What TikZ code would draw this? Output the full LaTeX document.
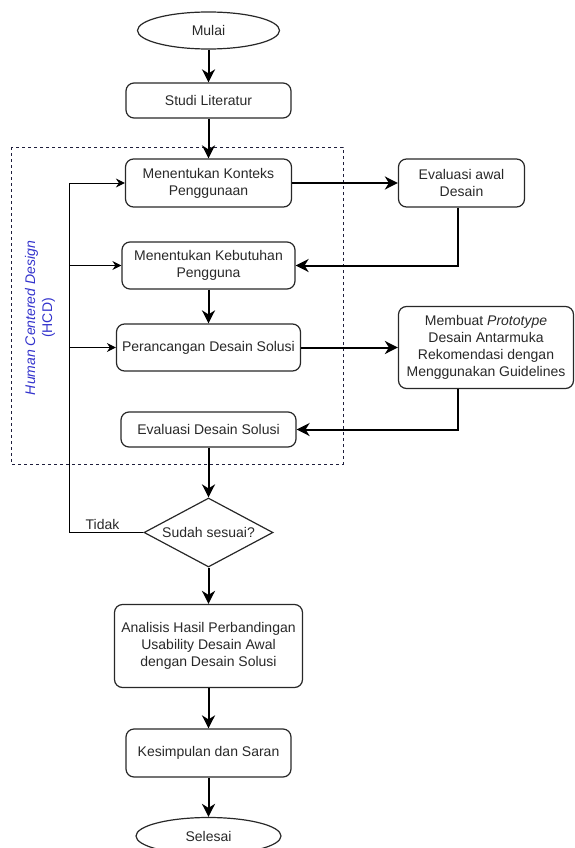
\documentclass[tikz,border=0pt]{standalone}
\usepackage{fontspec}
\setmainfont{Liberation Sans}
\usetikzlibrary{arrows.meta}
\usetikzlibrary{shapes.geometric}
\usetikzlibrary{calc}

\definecolor{hcdbiru}{RGB}{51,51,204}
\definecolor{hcdgaris}{RGB}{30,30,60}
\definecolor{tinta}{RGB}{40,40,40}

\tikzset{
  teks/.style={text=tinta, font=\fontsize{14}{16.8}\selectfont, align=center, inner sep=2pt},
  proses/.style={teks, draw=tinta, line width=1.2pt, rounded corners=8pt},
  terminal/.style={teks, ellipse, draw=tinta, line width=1.2pt},
  keputusan/.style={teks, diamond, aspect=1.87, inner sep=0pt, draw=tinta, line width=1.2pt},
  alur/.style={line width=2pt, -{Stealth[length=13pt, width=13pt, inset=4pt]}},
  balik/.style={line width=1pt, -{Stealth[length=9pt, width=9pt, inset=3pt]}},
}

\begin{document}
\begin{tikzpicture}[x=1pt, y=-1pt]
\useasboundingbox (0,0) rectangle (575,848);
% kotak HCD
\draw[hcdgaris, line width=0.8pt, dash pattern=on 3pt off 3pt] (11,147) rectangle (343,464);
\node[teks, rotate=90, text=hcdbiru] (hcd) at (40,318) {\textit{Human Centered Design}\\(HCD)};

\node[terminal, minimum width=142, minimum height=37] (mulai) at (208.5,30.5) {Mulai};
\node[proses, minimum width=165, minimum height=35] (studi) at (208.5,100.5) {Studi Literatur};
\node[proses, minimum width=166, minimum height=48] (konteks) at (208.5,183) {Menentukan Konteks\\Penggunaan};
\node[proses, minimum width=126, minimum height=48] (evalawal) at (461.5,183) {Evaluasi awal\\Desain};
\node[proses, minimum width=173, minimum height=47] (kebutuhan) at (208.5,265.5) {Menentukan Kebutuhan\\Pengguna};
\node[proses, minimum width=184, minimum height=47] (perancangan) at (208.5,347.5) {Perancangan Desain Solusi};
\node[proses, minimum width=175, minimum height=82] (prototype) at (486,347.5) {Membuat \textit{Prototype}\\Desain Antarmuka\\Rekomendasi dengan\\Menggunakan Guidelines};
\node[proses, minimum width=175, minimum height=35] (evaldesain) at (208.5,429.5) {Evaluasi Desain Solusi};
\node[keputusan, minimum width=129, minimum height=69] (cek) at (208.5,532.5) {Sudah sesuai?};
\node[proses, minimum width=188, minimum height=83] (analisis) at (208.5,646) {Analisis Hasil Perbandingan\\Usability Desain Awal\\dengan Desain Solusi};
\node[proses, minimum width=165, minimum height=48] (kesimpulan) at (208.5,753) {Kesimpulan dan Saran};
\node[terminal, minimum width=145, minimum height=37] (selesai) at (208.5,836) {Selesai};

\coordinate (kanan) at (458,0);
\coordinate (kiriatas) at (69,183);
\coordinate (kiribawah) at (69,532.5);

\foreach \a/\b in {mulai/studi, studi/konteks, kebutuhan/perancangan, evaldesain/cek, cek/analisis, analisis/kesimpulan, kesimpulan/selesai}
  \draw[alur] (\a) -- (\b);
\draw[alur] (konteks) -- (evalawal);
\draw[alur] (perancangan) -- (prototype);
\draw[alur] (evalawal.south -| kanan) |- (kebutuhan.east);
\draw[alur] (prototype.south -| kanan) |- (evaldesain.east);

\draw[balik] (cek.west) -- node[teks, above, pos=0.55] {Tidak} (kiribawah) -- (kiriatas) -- (konteks.west);
\draw[balik] (kebutuhan.west -| kiriatas) -- (kebutuhan.west);
\draw[balik] (perancangan.west -| kiriatas) -- (perancangan.west);
\end{tikzpicture}
\end{document}
